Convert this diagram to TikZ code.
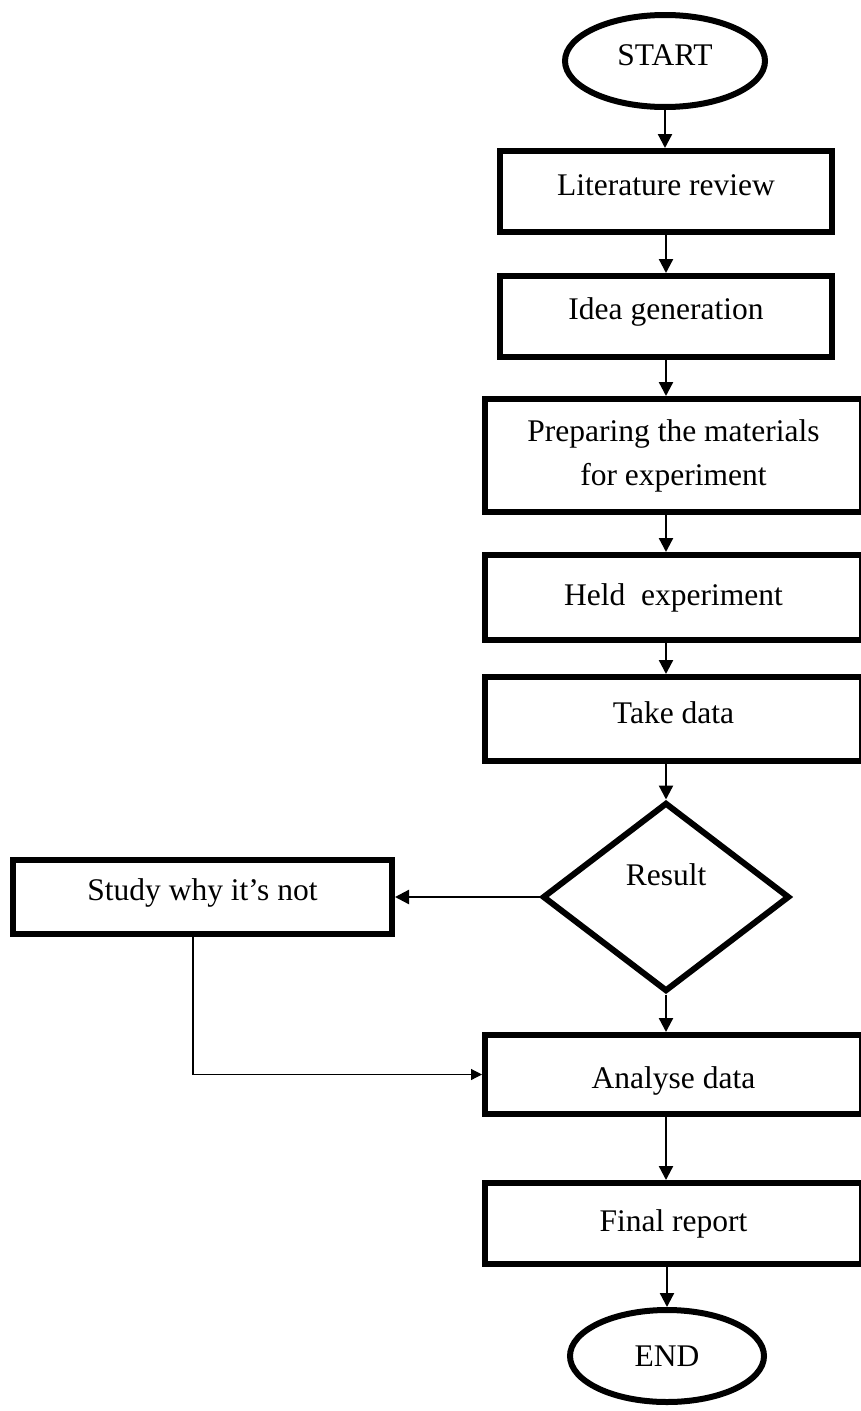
\documentclass[tikz,border=0pt]{standalone}
\usepackage{fontspec}
\setmainfont{Liberation Serif}
\usetikzlibrary{arrows.meta,shapes.geometric}
\tikzset{
  label font/.style={font=\fontsize{31.5}{44}\selectfont},
  stepbox/.style={
    draw,
    line width=6pt,
    inner sep=0pt,
    align=center,
    label font
  },
  narrowbox/.style={stepbox,minimum width=332pt},
  widebox/.style={stepbox,minimum width=377pt},
  terminal/.style={ellipse,draw,line width=6pt,inner sep=0pt,label font},
  decision/.style={diamond,draw,line width=6pt,inner sep=0pt,label font},
  flow/.style={-{Triangle[length=14pt,width=14pt]},line width=2.3pt},
  loopback/.style={-{Triangle[length=11pt,width=11pt]},line width=1.2pt}
}
\begin{document}
\begin{tikzpicture}[x=1pt,y=-1pt]
  % Page size; the wide boxes run off its right edge.
  \useasboundingbox (0,0) rectangle (861,1411);

  \node[terminal,minimum width=200pt,minimum height=92pt,text depth=12pt]
    (start) at (665,61) {START};
  \node[narrowbox,minimum height=81pt,text depth=12pt] (lit) at (666,191.5)
    {Literature review};
  \node[narrowbox,minimum height=81pt,text depth=16pt] (idea) at (666,316.5)
    {Idea generation};
  \node[widebox,minimum height=113pt] (prep) at (673.5,455.5)
    {Preparing the materials\\for experiment};
  \node[widebox,minimum height=85pt] (held) at (673.5,597.5)
    {Held\ \ experiment};
  \node[widebox,minimum height=84pt,text depth=12pt] (take) at (673.5,719)
    {Take data};

  \node[decision,minimum width=247pt,minimum height=189pt,text depth=45pt]
    (result) at (666,897) {Result};
  \node[stepbox,minimum width=379pt,minimum height=74pt,text depth=15pt]
    (study) at (202.5,897) {Study why it’s not};

  \node[widebox,minimum height=79pt,text height=35pt] (analyse) at (673.5,1074.5)
    {Analyse data};
  \node[widebox,minimum height=81pt] (final) at (673.5,1223.5)
    {Final report};
  \node[terminal,minimum width=194pt,minimum height=92pt] (stop) at (667,1356)
    {END};

  \draw[flow] (start.south) -- (start.south |- lit.north);
  \draw[flow] (lit.south) -- (idea.north);
  \draw[flow] (idea.south) -- (idea.south |- prep.north);
  \draw[flow] (prep.south -| idea) -- (held.north -| idea);
  \draw[flow] (held.south -| idea) -- (take.north -| idea);
  \draw[flow] (take.south -| idea) -- (result.north);
  \draw[flow] (result.west) -- (study.east);
  \draw[flow] (result.south) -- (result.south |- analyse.north);
  \draw[loopback] ([xshift=-9.5pt]study.south) |- (analyse.west);
  \draw[flow] (analyse.south -| idea) -- (final.north -| idea);
  \draw[flow] (final.south -| stop) -- (stop.north);
\end{tikzpicture}
\end{document}
